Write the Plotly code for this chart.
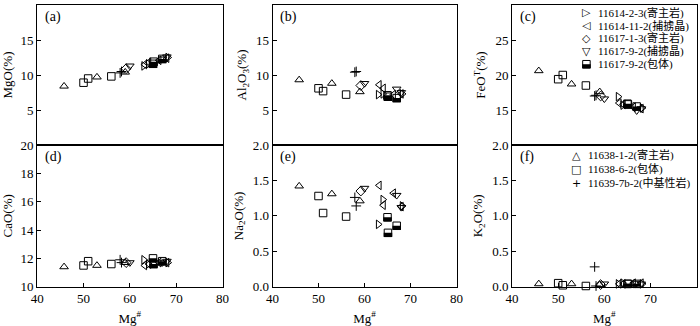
import plotly.graph_objects as go
from plotly.subplots import make_subplots

# Mg# and oxide contents (%), one block per sample

# 11614-2-3 (host rock)
r1_mg = [63.0, 64.0, 68.2]
r1_mgo = [11.3, 11.6, 12.5]
r1_al = [7.2, 7.3, 7.3]
r1_fe = [16.9, 15.7, 15.3]
r1_ca = [11.9, 11.6, 11.7]
r1_na = [0.88, 1.23, 1.14]
r1_k = [0.04, 0.05, 0.04]

# 11614-11-2 (xenocryst)
r2_mg = [63.2, 64.1, 66.3, 68.0]
r2_mgo = [11.5, 11.8, 12.1, 12.4]
r2_al = [8.6, 8.1, 7.2, 7.3]
r2_fe = [16.0, 15.8, 15.4, 15.2]
r2_ca = [11.5, 11.6, 11.7, 11.7]
r2_na = [1.43, 1.15, 1.32, 1.13]
r2_k = [0.04, 0.04, 0.05, 0.05]

# 11617-1-3 (host rock)
r3_mg = [59.2]
r3_mgo = [10.9]
r3_al = [8.5]
r3_fe = [17.0]
r3_ca = [11.7]
r3_na = [1.35]
r3_k = [0.03]

# 11617-9-2 (xenocryst)
r4_mg = [60.0, 67.0, 68.0]
r4_mgo = [11.3, 12.3, 12.6]
r4_al = [8.8, 8.0, 7.5]
r4_fe = [16.6, 14.9, 15.2]
r4_ca = [11.7, 11.7, 11.8]
r4_na = [1.39, 1.29, 1.12]
r4_k = [0.04, 0.05, 0.04]

# 11617-9-2 (enclave), half-filled squares
r5_mg = [65.0, 65.1, 67.0]
r5_mgo = [11.6, 11.9, 12.3]
r5_al = [7.1, 6.9, 6.7]
r5_fe = [15.9, 15.8, 15.5]
r5_ca = [12.0, 11.6, 11.8]
r5_na = [0.98, 0.76, 0.86]
r5_k = [0.04, 0.04, 0.04]

# 11638-1-2 (host rock)
r6_mg = [45.8, 52.9, 59.0]
r6_mgo = [8.4, 9.7, 10.4]
r6_al = [9.3, 8.8, 7.6]
r6_fe = [20.6, 18.7, 17.6]
r6_ca = [11.4, 11.5, 11.7]
r6_na = [1.42, 1.31, 1.21]
r6_k = [0.04, 0.04, 0.03]

# 11638-6-2 (enclave)
r7_mg = [50.0, 51.0, 56.0]
r7_mgo = [8.9, 9.5, 9.8]
r7_al = [8.1, 7.7, 7.2]
r7_fe = [19.4, 20.0, 18.5]
r7_ca = [11.5, 11.8, 11.6]
r7_na = [1.28, 1.04, 0.99]
r7_k = [0.05, 0.02, 0.01]

# 11639-7b-2 (intermediate-basic rock)
r8_mg = [57.9, 58.2]
r8_mgo = [10.3, 10.5]
r8_al = [10.4, 10.5]
r8_fe = [17.0, 17.1]
r8_ca = [11.9, 11.7]
r8_na = [1.26, 1.14]
r8_k = [0.28, 0.01]

panel_labels = ["(a)", "(b)", "(c)", "(d)", "(e)", "(f)"]
y_titles = ["MgO(%)", "Al<sub>2</sub>O<sub>3</sub>(%)", "FeO<sup>T</sup>(%)",
            "CaO(%)", "Na<sub>2</sub>O(%)", "K<sub>2</sub>O(%)"]
y_ranges = [[0, 20], [0, 20], [10, 30], [10, 20], [0, 2], [0, 2]]
y_ticks = [[5, 10, 15, 20], [5, 10, 15, 20], [15, 20, 25, 30],
           [10, 12, 14, 16, 18, 20], [0, 0.5, 1, 1.5, 2], [0, 0.5, 1, 1.5, 2]]
x_ticks = [40, 50, 60, 70, 80]

# (key label, marker symbol, glyph for the in-panel key, mg#, values per panel)
samples = [
    ("11614-2-3(寄主岩)", "triangle-right-open", "▷", r1_mg, [r1_mgo, r1_al, r1_fe, r1_ca, r1_na, r1_k]),
    ("11614-11-2(捕掳晶)", "triangle-left-open", "◁", r2_mg, [r2_mgo, r2_al, r2_fe, r2_ca, r2_na, r2_k]),
    ("11617-1-3(寄主岩)", "diamond-open", "◇", r3_mg, [r3_mgo, r3_al, r3_fe, r3_ca, r3_na, r3_k]),
    ("11617-9-2(捕掳晶)", "triangle-down-open", "▽", r4_mg, [r4_mgo, r4_al, r4_fe, r4_ca, r4_na, r4_k]),
    ("11617-9-2(包体)", "square-open", None, r5_mg, [r5_mgo, r5_al, r5_fe, r5_ca, r5_na, r5_k]),
    ("11638-1-2(寄主岩)", "triangle-up-open", "△", r6_mg, [r6_mgo, r6_al, r6_fe, r6_ca, r6_na, r6_k]),
    ("11638-6-2(包体)", "square-open", "□", r7_mg, [r7_mgo, r7_al, r7_fe, r7_ca, r7_na, r7_k]),
    ("11639-7b-2(中基性岩)", "cross-thin", "+", r8_mg, [r8_mgo, r8_al, r8_fe, r8_ca, r8_na, r8_k]),
]
HALF_FILLED = 4  # index of the sample drawn as half-filled squares

SERIF = "Liberation Serif, Noto Sans CJK SC, serif"
W, H = 700, 326
MS = 7.5  # marker size

# plot areas in pixels
cols_px = [(37.2, 222.5), (272.5, 456.5), (512.0, 696.7)]
rows_px = [(5.0, 145.0), (145.0, 286.7)]

fig = make_subplots(rows=2, cols=3)
shapes = []

for i in range(6):
    row, col = i // 3 + 1, i % 3 + 1
    n = "" if i == 0 else str(i + 1)
    for k, (label, symbol, glyph, mg, vals) in enumerate(samples):
        is_cross = symbol == "cross-thin"
        fig.add_trace(go.Scatter(
            x=mg, y=vals[i], mode="markers",
            marker=dict(symbol=symbol, size=7 if is_cross else MS,
                        color="black", line=dict(color="black", width=1)),
            showlegend=False, cliponaxis=False,
        ), row=row, col=col)
        if k == HALF_FILLED:
            # black lower half of each square
            for xv, yv in zip(mg, vals[i]):
                shapes.append(dict(
                    type="rect", xref="x" + n, yref="y" + n,
                    xsizemode="pixel", ysizemode="pixel",
                    xanchor=xv, yanchor=yv,
                    x0=-MS / 2 - 0.5, x1=MS / 2 + 0.5, y0=-MS / 2 - 0.5, y1=0,
                    fillcolor="black", line=dict(width=0), layer="above",
                ))

axis_common = dict(
    showline=True, mirror=True, linecolor="black", linewidth=1,
    showgrid=False, zeroline=False, ticks="inside", ticklen=4,
    tickcolor="black", tickfont=dict(family=SERIF, size=13, color="black"),
)

layout_axes = {}
for i in range(6):
    r, c = divmod(i, 3)
    n = "" if i == 0 else str(i + 1)
    x0, x1 = cols_px[c]
    top, bottom = rows_px[r]
    xa = dict(axis_common, range=[40, 80], tickvals=x_ticks,
              domain=[x0 / W, x1 / W])
    if r == 0:
        xa.update(showticklabels=False, ticks="")
    else:
        xa.update(title=dict(text="Mg<sup>#</sup>", standoff=8,
                             font=dict(family=SERIF, size=13, color="black")))
    ya = dict(axis_common, range=y_ranges[i], tickvals=y_ticks[i],
              domain=[(H - bottom) / H, (H - top) / H],
              title=dict(text=y_titles[i], standoff=6,
                         font=dict(family=SERIF, size=13, color="black")))
    if i >= 4:
        ya["tickformat"] = ".1f"
    layout_axes["xaxis" + n] = xa
    layout_axes["yaxis" + n] = ya

annotations = []
for i, lab in enumerate(panel_labels):
    n = "" if i == 0 else str(i + 1)
    annotations.append(dict(
        text=lab, xref="x" + n + " domain", yref="y" + n + " domain",
        x=0.03, y=0.985, xanchor="left", yanchor="top", showarrow=False,
        font=dict(family=SERIF, size=14, color="black"),
    ))

# in-panel keys: first five samples in (c), last three in (f)
key_sets = [(samples[:5], "3", 0.403, 0.455, 0.945, 0.092),
            (samples[5:], "6", 0.347, 0.400, 0.929, 0.0995)]
for group, n, sx, tx, ky, step in key_sets:
    for j, (label, symbol, glyph, mg, vals) in enumerate(group):
        yy = ky - j * step
        if glyph is None:
            shapes.append(dict(
                type="rect", xref="x" + n + " domain", yref="y" + n + " domain",
                xsizemode="pixel", ysizemode="pixel", xanchor=sx, yanchor=yy,
                x0=-MS / 2, x1=MS / 2, y0=-MS / 2, y1=MS / 2,
                fillcolor="white", line=dict(color="black", width=1), layer="above",
            ))
            shapes.append(dict(
                type="rect", xref="x" + n + " domain", yref="y" + n + " domain",
                xsizemode="pixel", ysizemode="pixel", xanchor=sx, yanchor=yy,
                x0=-MS / 2 - 0.5, x1=MS / 2 + 0.5, y0=-MS / 2 - 0.5, y1=0,
                fillcolor="black", line=dict(width=0), layer="above",
            ))
        else:
            annotations.append(dict(
                text=glyph, xref="x" + n + " domain", yref="y" + n + " domain",
                x=sx, y=yy, xanchor="center", yanchor="middle", showarrow=False,
                font=dict(family="DejaVu Sans", size=11, color="black"),
            ))
        annotations.append(dict(
            text=label, xref="x" + n + " domain", yref="y" + n + " domain",
            x=tx, y=yy, xanchor="left", yanchor="middle", showarrow=False,
            font=dict(family=SERIF, size=11, color="black"),
        ))

fig.update_layout(
    width=W, height=H,
    template="none",
    paper_bgcolor="white", plot_bgcolor="white",
    margin=dict(l=0, r=0, t=0, b=0),
    showlegend=False,
    annotations=annotations,
    shapes=shapes,
    **layout_axes,
)

# the page's default 8px body margin would push the figure out of the window
fig.write_html("out.html", config={"displayModeBar": False},
               post_script="document.body.style.margin='0';")
